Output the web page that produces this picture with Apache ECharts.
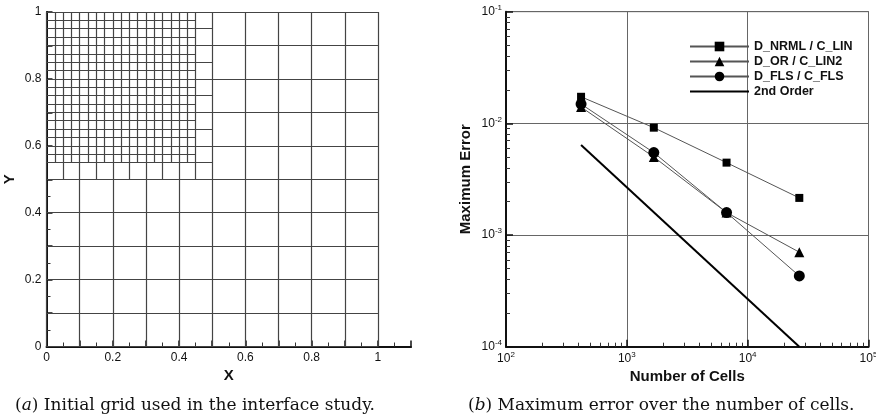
<!DOCTYPE html>
<html>
<head>
<meta charset="utf-8">
<script src="https://cdn.jsdelivr.net/npm/echarts@6/dist/echarts.min.js"></script>
<style>
  html, body { margin: 0; padding: 0; background: #fff; }
  #main { width: 876px; height: 417px; }
</style>
</head>
<body>
<div id="main"></div>
<script>
// (a) 网格线位置
const coarseLines = [0, 0.1, 0.2, 0.3, 0.4, 0.5, 0.6, 0.7, 0.8, 0.9, 1.0];
const midX = [0.05, 0.15, 0.25, 0.35, 0.45];
const midY = [0.55, 0.65, 0.75, 0.85, 0.95];
const fineX = [0.025, 0.075, 0.125, 0.175, 0.225, 0.275, 0.325, 0.375, 0.425];
const fineY = [0.575, 0.625, 0.675, 0.725, 0.775, 0.825, 0.875, 0.925, 0.975];
const gridTickLabels = ['0', '0.2', '0.4', '0.6', '0.8', '1'];

// (b) 误差数据
const cells = [418, 1672, 6688, 26752];
const errNrml = [0.0173, 0.00915, 0.00445, 0.00215];
const errOr = [0.0140, 0.0050, 0.00159, 0.000702];
const errFls = [0.0149, 0.00547, 0.00159, 0.00043];
const orderX = [418, 26752];
const orderY = [0.0064, 0.0001];

const seriesNames = ['D_NRML / C_LIN', 'D_OR / C_LIN2', 'D_FLS / C_FLS', '2nd Order'];

let myChart = echarts.init(document.getElementById('main'));

// 网格线段
let mesh = [];
coarseLines.forEach(v => {
	mesh.push({coords: [[v, 0], [v, 1]]});
	mesh.push({coords: [[0, v], [1, v]]});
});
midX.forEach(v => mesh.push({coords: [[v, 0.5], [v, 1]]}));
midY.forEach(v => mesh.push({coords: [[0, v], [0.5, v]]}));
fineX.forEach(v => mesh.push({coords: [[v, 0.55], [v, 1]]}));
fineY.forEach(v => mesh.push({coords: [[0, v], [0.45, v]]}));

const pair = (xs, ys) => xs.map((x, i) => [x, ys[i]]);

const sansFont = 'Liberation Sans';
const serifFont = 'DejaVu Serif';

// 只显示 0, 0.2, ... 1
const gridLabel = {
	color: '#111', fontFamily: sansFont, fontSize: 12, margin: 5,
	formatter: function (v) {
		let k = Math.round(v * 10);
		if (k % 2 !== 0 || k > 10) return '';
		return gridTickLabels[k / 2];
	}
};

const logLabel = {
	color: '#111', fontFamily: sansFont, fontSize: 12, margin: 4,
	formatter: function (v) {
		return '10{s|' + Math.round(Math.log10(v)) + '}';
	},
	rich: {
		s: {fontSize: 8, fontFamily: sansFont, color: '#111', verticalAlign: 'top', padding: [0, 0, 8, 0]}
	}
};

const captionStyle = {
	fontFamily: serifFont, fontSize: 17, fontWeight: 'normal', color: '#111',
	rich: {i: {fontFamily: serifFont, fontSize: 17, fontStyle: 'italic', color: '#111'}}
};

const nameStyle = {fontFamily: sansFont, fontSize: 15, fontWeight: 'bold', color: '#111'};

let option = {
	animation: false,
	backgroundColor: '#fff',
	title: [{
		text: '({i|a}) Initial grid used in the interface study.',
		left: 15, top: 397, padding: 0,
		textStyle: captionStyle
	}, {
		text: '({i|b}) Maximum error over the number of cells.',
		left: 468, top: 397, padding: 0,
		textStyle: captionStyle
	}],
	legend: {
		data: [seriesNames[0], seriesNames[1], seriesNames[2], {name: seriesNames[3], itemStyle: {opacity: 0}}],
		orient: 'vertical',
		left: 684, top: 35,
		itemWidth: 59, itemHeight: 12, itemGap: 2,
		textStyle: {fontFamily: sansFont, fontSize: 12.5, fontWeight: 'bold', color: '#111'}
	},
	grid: [
		{left: 46.5, top: 12, width: 364.6, height: 334.5, outerBoundsMode: 'none'},
		{left: 506, top: 11.7, width: 362.5, height: 335, show: true, borderColor: '#777', borderWidth: 1, outerBoundsMode: 'none'}
	],
	xAxis: [{
		gridIndex: 0, type: 'value', min: 0, max: 1.1, interval: 0.1,
		name: 'X', nameLocation: 'middle', nameGap: 18, nameTextStyle: nameStyle,
		axisLine: {lineStyle: {color: '#111', width: 2}},
		axisTick: {inside: true, length: 6, lineStyle: {color: '#111', width: 1.5}},
		minorTick: {show: true, splitNumber: 2, length: 4, lineStyle: {color: '#333'}},
		axisLabel: gridLabel,
		splitLine: {show: false}
	}, {
		gridIndex: 1, type: 'log', logBase: 10, min: 100, max: 100000,
		name: 'Number of Cells', nameLocation: 'middle', nameGap: 20, nameTextStyle: nameStyle,
		axisLine: {lineStyle: {color: '#111', width: 2}},
		axisTick: {inside: true, length: 7, lineStyle: {color: '#111', width: 1.5}},
		minorTick: {show: true, splitNumber: 9, length: 4, lineStyle: {color: '#333'}},
		axisLabel: logLabel,
		splitLine: {show: true, lineStyle: {color: '#666', width: 1}}
	}],
	yAxis: [{
		gridIndex: 0, type: 'value', min: 0, max: 1, interval: 0.1,
		name: 'Y', nameLocation: 'middle', nameGap: 29, nameRotate: 90, nameTextStyle: nameStyle,
		axisLine: {lineStyle: {color: '#111', width: 2}},
		axisTick: {inside: true, length: 6, lineStyle: {color: '#111', width: 1.5}},
		minorTick: {show: true, splitNumber: 2, length: 4, lineStyle: {color: '#333'}},
		axisLabel: gridLabel,
		splitLine: {show: false}
	}, {
		gridIndex: 1, type: 'log', logBase: 10, min: 0.0001, max: 0.1,
		name: 'Maximum Error', nameLocation: 'middle', nameGap: 33, nameRotate: 90, nameTextStyle: nameStyle,
		axisLine: {lineStyle: {color: '#111', width: 2}},
		axisTick: {inside: true, length: 7, lineStyle: {color: '#111', width: 1.5}},
		minorTick: {show: true, splitNumber: 9, length: 4, lineStyle: {color: '#333'}},
		axisLabel: logLabel,
		splitLine: {show: true, lineStyle: {color: '#666', width: 1}}
	}],
	series: [{
		type: 'lines',
		coordinateSystem: 'cartesian2d',
		xAxisIndex: 0, yAxisIndex: 0,
		silent: true,
		lineStyle: {color: '#444', width: 1.2, opacity: 1},
		data: mesh
	}, {
		name: seriesNames[0], type: 'line', xAxisIndex: 1, yAxisIndex: 1,
		symbol: 'rect', symbolSize: 8,
		itemStyle: {color: '#000'},
		lineStyle: {color: '#555', width: 1},
		data: pair(cells, errNrml)
	}, {
		name: seriesNames[1], type: 'line', xAxisIndex: 1, yAxisIndex: 1,
		symbol: 'triangle', symbolSize: 10,
		itemStyle: {color: '#000'},
		lineStyle: {color: '#555', width: 1},
		data: pair(cells, errOr)
	}, {
		name: seriesNames[2], type: 'line', xAxisIndex: 1, yAxisIndex: 1,
		symbol: 'circle', symbolSize: 11,
		itemStyle: {color: '#000'},
		lineStyle: {color: '#555', width: 1},
		data: pair(cells, errFls)
	}, {
		name: seriesNames[3], type: 'line', xAxisIndex: 1, yAxisIndex: 1,
		symbol: 'none',
		itemStyle: {color: '#000'},
		lineStyle: {color: '#000', width: 2},
		data: pair(orderX, orderY)
	}]
};

myChart.setOption(option);
</script>
</body>
</html>
